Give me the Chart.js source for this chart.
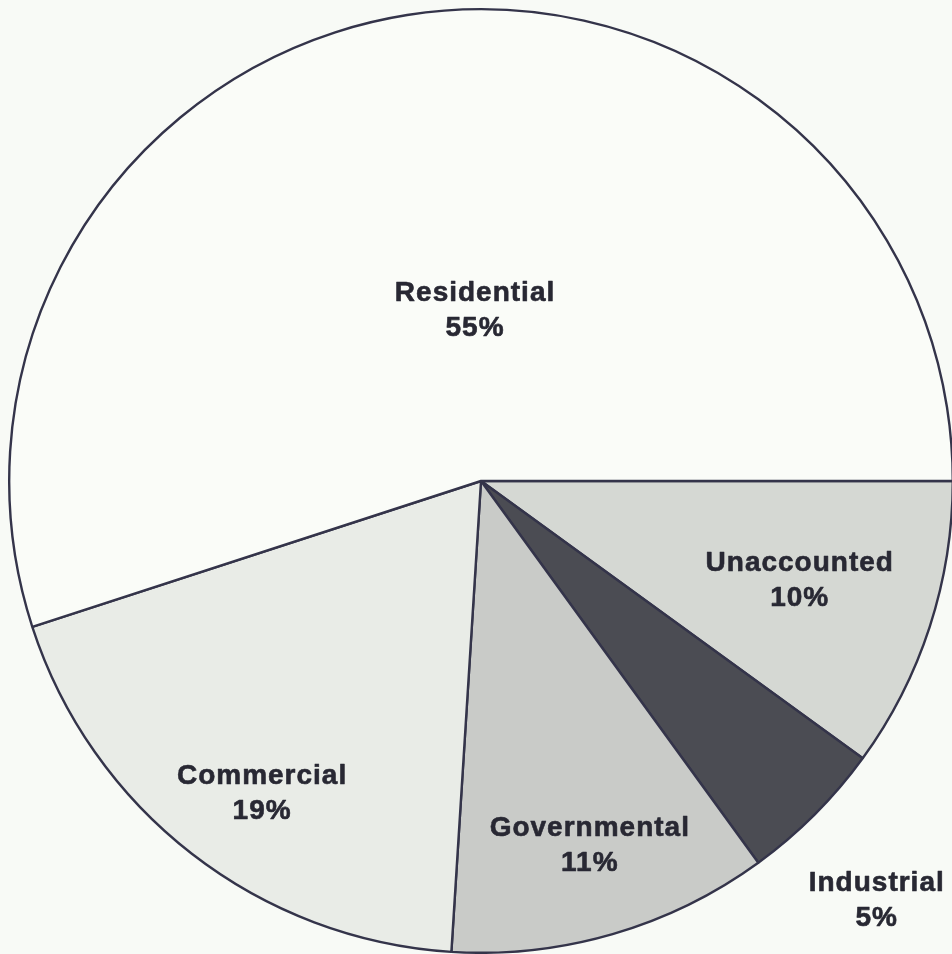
<!DOCTYPE html>
<html>
<head>
<meta charset="utf-8">
<script src="https://cdn.jsdelivr.net/npm/chart.js@4/dist/chart.umd.min.js"></script>
<style>
html,body{margin:0;padding:0;background:#f8faf6;overflow:hidden;}
#wrap{width:960px;height:954px;}
</style>
</head>
<body>
<div id="wrap"><canvas id="c" width="960" height="954"></canvas></div>
<script>
// Data (clockwise from 3 o'clock)
const categories = ["Unaccounted", "Industrial", "Governmental", "Commercial", "Residential"];
const shares = [10, 5, 11, 19, 55];
const sliceColors = ["#d5d8d3", "#4b4c53", "#c9cbc8", "#e9ece7", "#fafcf8"];
// label placement: fraction of radius and angular shift (deg) from slice middle
const labelRadius = [0.708, 1.223, 0.807, 0.809, 0.362];
const labelShift = [-0.6, 1.7, -0.4, -2.8, 7];

const labelPlugin = {
  id: 'sliceLabels',
  afterDraw(chart) {
    const ctx = chart.ctx;
    const meta = chart.getDatasetMeta(0);
    ctx.save();
    ctx.fillStyle = '#282833';
    ctx.strokeStyle = '#282833';
    ctx.lineWidth = 0.6;
    ctx.lineJoin = 'round';
    ctx.font = 'bold 28px "Liberation Sans"';
    if ('letterSpacing' in ctx) ctx.letterSpacing = '1px';
    ctx.textAlign = 'center';
    ctx.textBaseline = 'middle';
    meta.data.forEach((arc, i) => {
      const p = arc.getProps(['x','y','startAngle','endAngle','outerRadius'], true);
      const a = (p.startAngle + p.endAngle) / 2 + labelShift[i] * Math.PI / 180;
      const r = p.outerRadius * labelRadius[i];
      const x = p.x + Math.cos(a) * r;
      const y = p.y + Math.sin(a) * r;
      const lines = [categories[i], shares[i] + '%'];
      lines.forEach((t, k) => {
        const yy = y + (k === 0 ? -17.5 : 17.5);
        ctx.fillText(t, x, yy);
        ctx.strokeText(t, x, yy);
      });
    });
    ctx.restore();
  }
};

new Chart(document.getElementById('c'), {
  type: 'pie',
  data: {
    labels: categories,
    datasets: [{
      data: shares,
      backgroundColor: sliceColors,
      borderColor: '#34344a',
      borderWidth: 2.4,
      borderAlign: 'center'
    }]
  },
  options: {
    responsive: false,
    animation: false,
    rotation: 90,
    layout: { padding: { left: 8, top: 8, right: 6, bottom: 0 } },
    plugins: {
      legend: { display: false },
      tooltip: { enabled: false },
      title: { display: false }
    }
  },
  plugins: [labelPlugin]
});
</script>
</body>
</html>
